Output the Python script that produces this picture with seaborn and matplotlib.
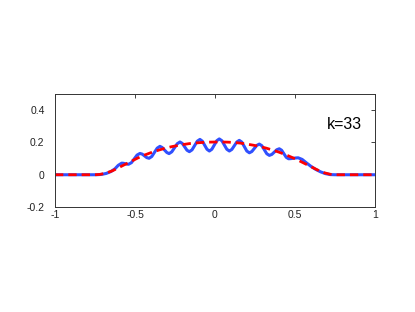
import matplotlib
matplotlib.use("Agg")
import matplotlib.pyplot as plt
import seaborn as sns
import pandas as pd

# blue: oscillating approximation
blue_x = [-1.0, -0.74, -0.71, -0.68, -0.65, -0.625, -0.605,
          -0.583, -0.572, -0.5615, -0.551,
          -0.540, -0.522, -0.5045, -0.487,
          -0.469, -0.455, -0.4405, -0.426,
          -0.412, -0.395, -0.378, -0.361,
          -0.344, -0.330, -0.3155, -0.301,
          -0.287, -0.270, -0.253, -0.236,
          -0.219, -0.204, -0.1895, -0.175,
          -0.160, -0.1435, -0.127, -0.1105,
          -0.094, -0.079, -0.0645, -0.050,
          -0.035, -0.0195, -0.004, 0.0115,
          0.027, 0.043, 0.0585, 0.074,
          0.090, 0.1055, 0.121, 0.1365,
          0.152, 0.168, 0.1835, 0.199,
          0.215, 0.2305, 0.246, 0.2615,
          0.277, 0.293, 0.3085, 0.324,
          0.340, 0.3555, 0.371, 0.3865,
          0.402, 0.4165, 0.431, 0.4455,
          0.460, 0.475, 0.490, 0.505,
          0.520, 0.545, 0.57, 0.60, 0.63, 0.66, 0.69, 0.72, 0.75, 1.0]
blue_y = [0.0, 0.0, 0.002, 0.008, 0.02, 0.037, 0.058,
          0.072, 0.071, 0.0685, 0.066,
          0.065, 0.075, 0.0985, 0.122,
          0.132, 0.128, 0.117, 0.106,
          0.102, 0.113, 0.139, 0.165,
          0.176, 0.169, 0.1535, 0.138,
          0.131, 0.142, 0.167, 0.192,
          0.203, 0.194, 0.173, 0.152,
          0.143, 0.154, 0.181, 0.208,
          0.219, 0.208, 0.183, 0.158,
          0.147, 0.158, 0.1845, 0.211,
          0.222, 0.211, 0.1845, 0.158,
          0.147, 0.157, 0.180, 0.203,
          0.213, 0.202, 0.1745, 0.147,
          0.136, 0.144, 0.163, 0.182,
          0.190, 0.180, 0.155, 0.130,
          0.120, 0.126, 0.1405, 0.155,
          0.161, 0.152, 0.130, 0.108,
          0.099, 0.100, 0.102, 0.104,
          0.105, 0.095, 0.075, 0.052, 0.033, 0.018, 0.007, 0.001, 0.0, 0.0]

# red dashed: smooth target
red_x = [-1.0, -0.75, -0.72, -0.68, -0.64, -0.60, -0.56, -0.52, -0.48, -0.44,
         -0.40, -0.36, -0.32, -0.28, -0.24, -0.20, -0.16, -0.12, -0.08, -0.04,
         0.0, 0.04, 0.08, 0.12, 0.16, 0.20, 0.24, 0.28, 0.32, 0.36,
         0.40, 0.44, 0.48, 0.52, 0.56, 0.60, 0.64, 0.68, 0.72, 0.75, 1.0]
red_y = [0.0, 0.0, 0.002, 0.01, 0.025, 0.045, 0.065, 0.085, 0.105, 0.122,
         0.137, 0.15, 0.162, 0.172, 0.18, 0.187, 0.193, 0.197, 0.2, 0.202,
         0.203, 0.203, 0.202, 0.2, 0.196, 0.19, 0.183, 0.175, 0.165, 0.153,
         0.14, 0.125, 0.108, 0.09, 0.07, 0.05, 0.03, 0.013, 0.003, 0.0, 0.0]

xticks = [-1, -0.5, 0, 0.5, 1]
xtick_labels = ["-1", "-0.5", "0", "0.5", "1"]
yticks = [-0.2, 0, 0.2, 0.4]
ytick_labels = ["-0.2", "0", "0.2", "0.4"]
label = "k=33"

sns.set_theme(style="white")
plt.rcParams['font.family'] = ['Liberation Sans', 'DejaVu Sans']
plt.rcParams['axes.unicode_minus'] = False

fig = plt.figure(figsize=(4.15, 3.12), dpi=100)
ax = fig.add_axes([0.1325, 0.3365, 0.771, 0.362])

blue = pd.DataFrame({"x": blue_x, "y": blue_y})
red = pd.DataFrame({"x": red_x, "y": red_y})
sns.lineplot(data=blue, x="x", y="y", ax=ax, color="#3050ff", lw=2.2,
             sort=False, estimator=None)
sns.lineplot(data=red, x="x", y="y", ax=ax, color="#ff0000", lw=2.0,
             sort=False, estimator=None, dashes=False)
ax.lines[-1].set_dashes((3.0, 1.8))

ax.set_xlim(-1, 1)
ax.set_ylim(-0.2, 0.5)
ax.set_xticks(xticks, labels=xtick_labels)
ax.set_yticks(yticks, labels=ytick_labels)
ax.set(xlabel="", ylabel="")
ax.tick_params(direction="in", top=True, right=True, length=3, width=0.6,
               labelsize=7.5, colors="#222222")
ax.tick_params(axis="x", pad=2.5)
ax.tick_params(axis="y", pad=7.5)
for s in ax.spines.values():
    s.set_visible(True)
    s.set_color("#333333")
    s.set_linewidth(0.7)

ax.text(0.70, 0.31, label, fontsize=11.5, va="center", ha="left", color="black")

fig.savefig("out.png", dpi=100)
